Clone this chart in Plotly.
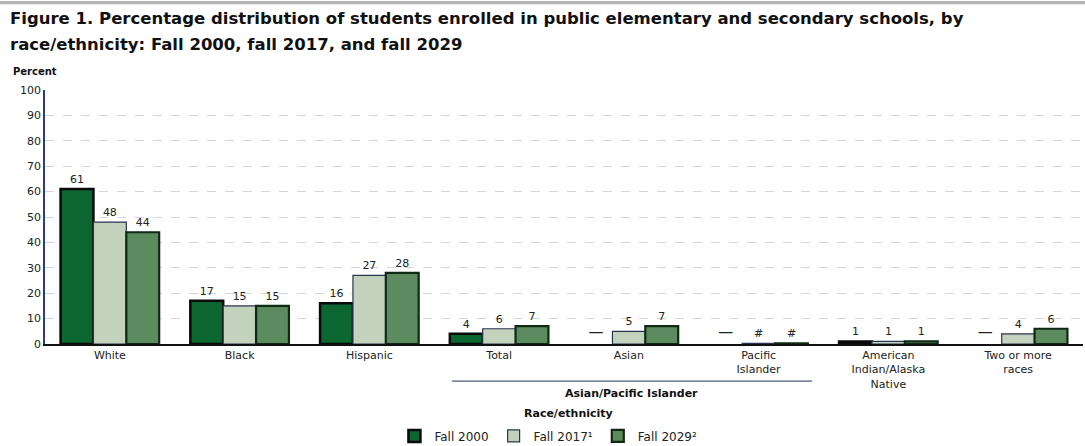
import plotly.graph_objects as go

categories = ["White", "Black", "Hispanic", "Total", "Asian", "Pacific<br>Islander",
              "American<br>Indian/Alaska<br>Native", "Two or more<br>races"]
series_names = ["Fall 2000", "Fall 2017¹", "Fall 2029²"]
fall2000 = [61, 17, 16, 4, 0, 0, 1, 0]
fall2017 = [48, 15, 27, 6, 5, 0.3, 1, 4]
fall2029 = [44, 15, 28, 7, 7, 0.3, 1, 6]
labels2000 = ["61", "17", "16", "4", "—", "—", "1", "—"]
labels2017 = ["48", "15", "27", "6", "5", "#", "1", "4"]
labels2029 = ["44", "15", "28", "7", "7", "#", "1", "6"]
y_ticks = list(range(0, 101, 10))

colors = ["#0b6630", "#c3d2bd", "#5b8b5e"]
line_colors = ["#0a0a0a", "#2a3550", "#0f2a12"]
line_widths = [2.5, 1.2, 2.2]

FONT = "DejaVu Sans"

fig = go.Figure()
for name, vals, labs, c, lc, lw in zip(series_names, [fall2000, fall2017, fall2029],
                                       [labels2000, labels2017, labels2029],
                                       colors, line_colors, line_widths):
    widths = [0 if t == "—" else lw for t in labs]
    sizes = [15 if t == "—" else 11 for t in labs]
    fig.add_trace(go.Bar(
        x=categories, y=vals, name=name, text=labs, textposition="outside",
        textfont=dict(family=FONT, size=sizes, color="#222"),
        marker=dict(color=c, line=dict(color=lc, width=widths)),
        cliponaxis=False,
    ))

fig.update_layout(
    width=1085, height=446,
    margin=dict(l=45, r=2, t=90, b=102, autoexpand=False),
    paper_bgcolor="white", plot_bgcolor="white",
    barmode="group", bargap=0.24, bargroupgap=0.0,
    font=dict(family=FONT, size=11, color="#222"),
    showlegend=True,
    legend=dict(orientation="h", x=0.485, xanchor="center", y=-0.362, yanchor="middle",
                font=dict(family=FONT, size=12, color="#222"),
                itemwidth=30, tracegroupgap=0, traceorder="normal"),
    xaxis=dict(showgrid=False, showline=True, linecolor="#111", linewidth=1.5,
               ticks="", tickfont=dict(family=FONT, size=11, color="#222"),
               range=[-0.5, 7.5]),
    yaxis=dict(range=[0, 100], tickvals=y_ticks, showgrid=True, gridcolor="#d4d4dc",
               griddash="dash", gridwidth=1, showline=True, linecolor="#2d3a8c",
               linewidth=1.5, ticks="", tickfont=dict(family=FONT, size=11, color="#222"),
               zeroline=False),
)

TITLE_FONT = dict(family="DejaVu Sans", size=16.5, color="#111")
fig.add_annotation(text="<b>Figure 1. Percentage distribution of students enrolled in public elementary and secondary schools, by</b>",
                   xref="paper", yref="paper", x=-0.0356, y=1.283, xanchor="left", yanchor="middle",
                   showarrow=False, font=TITLE_FONT)
fig.add_annotation(text="<b>race/ethnicity: Fall 2000, fall 2017, and fall 2029</b>",
                   xref="paper", yref="paper", x=-0.0356, y=1.181, xanchor="left", yanchor="middle",
                   showarrow=False, font=TITLE_FONT)
fig.add_annotation(text="<b>Percent</b>", xref="paper", yref="paper", x=-0.033, y=1.071,
                   xanchor="left", yanchor="middle", showarrow=False,
                   font=dict(family=FONT, size=10, color="#111"))
fig.add_shape(type="line", xref="paper", yref="paper", x0=0.392, x1=0.739, y0=-0.146, y1=-0.146,
              line=dict(color="#4a5a7a", width=1.2))
fig.add_annotation(text="<b>Asian/Pacific Islander</b>", xref="paper", yref="paper", x=0.565, y=-0.193,
                   xanchor="center", yanchor="middle", showarrow=False,
                   font=dict(family=FONT, size=11, color="#111"))
fig.add_annotation(text="<b>Race/ethnicity</b>", xref="paper", yref="paper", x=0.504, y=-0.272,
                   xanchor="center", yanchor="middle", showarrow=False,
                   font=dict(family=FONT, size=11, color="#111"))
fig.add_shape(type="rect", xref="paper", yref="paper", x0=-0.05, x1=1.01, y0=1.338, y1=1.35,
              line=dict(width=0), fillcolor="#b5b5b5")

fig.write_html("out.html", config={"displayModeBar": False},
               post_script="document.body.style.margin='0';document.body.style.overflow='hidden';")
